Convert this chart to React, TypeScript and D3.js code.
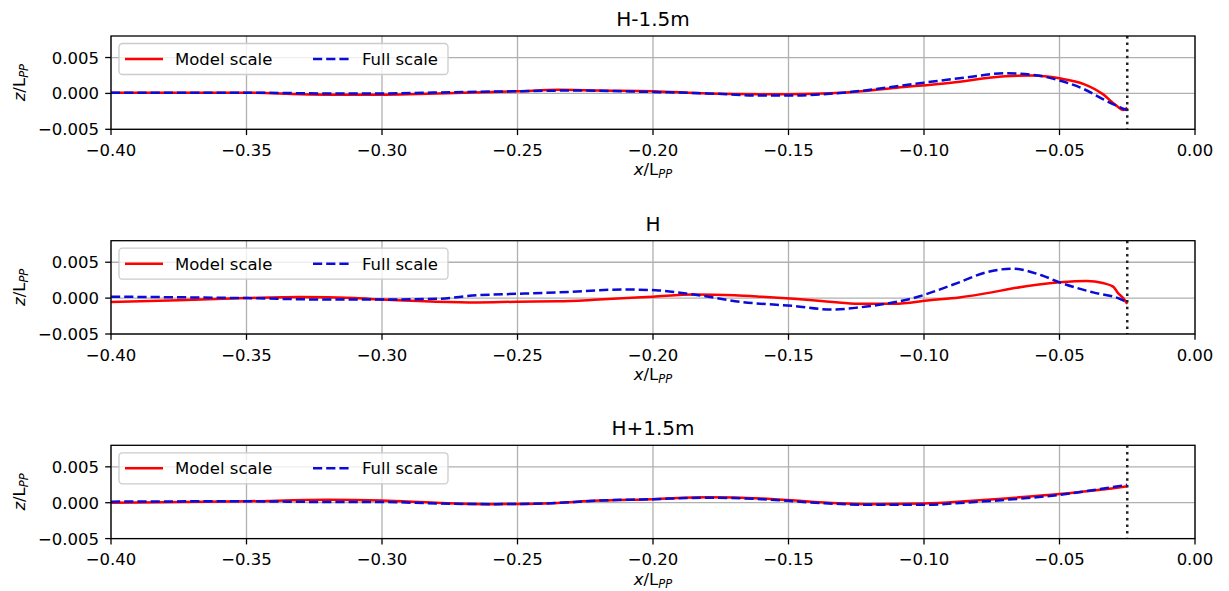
import React from "react";
import * as d3 from "d3";

const panelTitles = ["H-1.5m", "H", "H+1.5m"];
const seriesNames = ["Model scale", "Full scale"];
const xTicks = [-0.4, -0.35, -0.3, -0.25, -0.2, -0.15, -0.1, -0.05, 0.0];
const yTicks = [-0.005, 0.0, 0.005];
const xDomain = [-0.4, 0.0];
const yDomain = [-0.005, 0.008];
const refLineX = -0.025;

// Panel 1: H-1.5m
const p1ModelX = [-0.4, -0.37, -0.35, -0.33, -0.31, -0.29, -0.27, -0.25, -0.235, -0.22, -0.2, -0.18, -0.16, -0.15, -0.13, -0.11, -0.09, -0.07, -0.06, -0.05, -0.041, -0.034, -0.029, -0.0265, -0.025];
const p1ModelY = [0.0001, 0.0001, 0.0001, -0.0001, -0.0002, -0.0001, 0.0001, 0.0003, 0.0005, 0.0004, 0.0003, 0.0, -0.0001, -0.0001, 0.0001, 0.0008, 0.0015, 0.0024, 0.0025, 0.0021, 0.0013, -0.0001, -0.0017, -0.0023, -0.002];
const p1FullX = [-0.4, -0.35, -0.32, -0.3, -0.27, -0.25, -0.23, -0.2, -0.18, -0.16, -0.15, -0.13, -0.1, -0.085, -0.07, -0.06, -0.05, -0.041, -0.034, -0.029, -0.026, -0.0251, -0.025];
const p1FullY = [0.0001, 0.0001, 0.0, 0.0, 0.0002, 0.0003, 0.0004, 0.0002, 0.0, -0.0003, -0.0003, 0.0001, 0.0015, 0.0022, 0.0028, 0.0026, 0.0018, 0.0006, -0.0008, -0.0017, -0.0022, -0.0023, -0.003];

// Panel 2: H
const p2ModelX = [-0.4, -0.375, -0.35, -0.33, -0.31, -0.3, -0.28, -0.265, -0.25, -0.235, -0.22, -0.2, -0.185, -0.17, -0.16, -0.148, -0.135, -0.124, -0.111, -0.098, -0.087, -0.075, -0.068, -0.05, -0.04, -0.034, -0.0302, -0.0284, -0.0265, -0.025];
const p2ModelY = [-0.00055, -0.0003, 0.0, 0.00015, 0.0, -0.0002, -0.0005, -0.0006, -0.0005, -0.00045, -0.0002, 0.0002, 0.0005, 0.0004, 0.0002, -0.0001, -0.0005, -0.0008, -0.0008, -0.0003, 0.0001, 0.0008, 0.0013, 0.0022, 0.0024, 0.0021, 0.0016, 0.0007, 0.0, -0.0008];
const p2FullX = [-0.4, -0.35, -0.32, -0.3, -0.28, -0.265, -0.25, -0.235, -0.21, -0.199, -0.185, -0.167, -0.148, -0.134, -0.124, -0.116, -0.105, -0.087, -0.077, -0.0675, -0.056, -0.05, -0.0376, -0.0277, -0.025];
const p2FullY = [0.0002, 0.0, -0.0002, -0.0002, -0.0001, 0.0004, 0.0006, 0.0008, 0.0012, 0.0011, 0.0005, -0.00055, -0.0011, -0.0016, -0.0013, -0.0009, -0.0001, 0.0022, 0.0036, 0.0041, 0.0031, 0.0022, 0.0008, -0.0001, -0.0006];

// Panel 3: H+1.5m
const p3ModelX = [-0.4, -0.35, -0.32, -0.3, -0.28, -0.26, -0.24, -0.22, -0.2, -0.18, -0.16, -0.14, -0.12, -0.1, -0.085, -0.07, -0.05, -0.035, -0.025];
const p3ModelY = [0.0, 0.0002, 0.0004, 0.0003, 0.0, -0.0002, -0.0001, 0.0003, 0.0005, 0.00075, 0.0006, 0.0001, -0.0002, -0.0001, 0.0002, 0.0006, 0.0012, 0.0018, 0.0023];
const p3FullX = [-0.4, -0.35, -0.32, -0.3, -0.28, -0.26, -0.24, -0.22, -0.2, -0.18, -0.16, -0.14, -0.12, -0.1, -0.085, -0.07, -0.05, -0.035, -0.025];
const p3FullY = [0.00015, 0.0002, 0.0001, 0.0001, -0.0001, -0.0002, -0.0001, 0.0003, 0.0005, 0.0007, 0.0005, 0.0, -0.0003, -0.0003, 0.0, 0.0004, 0.0011, 0.0019, 0.0025];

const panels = [
  { title: panelTitles[0], mx: p1ModelX, my: p1ModelY, fx: p1FullX, fy: p1FullY },
  { title: panelTitles[1], mx: p2ModelX, my: p2ModelY, fx: p2FullX, fy: p2FullY },
  { title: panelTitles[2], mx: p3ModelX, my: p3ModelY, fx: p3FullX, fy: p3FullY },
];

const W = 1229;
const H = 591;
const left = 111;
const right = 1195;
const panelTops = [36, 240.7, 445.3];
const panelH = 93.3;
const FONT = "DejaVu Sans, sans-serif";
const FS = 16.5;
const RED = "#ff0000";
const BLUE = "#0b0bd6";

const fmtX = (v: number) => (v < 0 ? "\u2212" : "") + Math.abs(v).toFixed(2);
const fmtY = (v: number) => (v < 0 ? "\u2212" : "") + Math.abs(v).toFixed(3);

function Panel({ idx }: { idx: number }) {
  const p = panels[idx];
  const top = panelTops[idx];
  const bottom = top + panelH;
  const x = d3.scaleLinear().domain(xDomain).range([left, right]);
  const y = d3.scaleLinear().domain(yDomain).range([bottom, top]);
  const line = d3
    .line<[number, number]>()
    .x((d) => x(d[0]))
    .y((d) => y(d[1]))
    .curve(d3.curveMonotoneX);
  const mPts = p.mx.map((v, i) => [v, p.my[i]] as [number, number]);
  const fPts = p.fx.map((v, i) => [v, p.fy[i]] as [number, number]);
  const clipId = `clip${idx}`;
  const cx = (left + right) / 2;
  const cy = (top + bottom) / 2;
  const legTop = top + 7.5;
  const legLeft = 119;
  const legMid = legTop + 15.5;
  return (
    <g>
      <defs>
        <clipPath id={clipId}>
          <rect x={left} y={top - 2} width={right - left} height={panelH + 4} />
        </clipPath>
      </defs>
      {xTicks.map((t) => (
        <line key={"gx" + t} x1={x(t)} x2={x(t)} y1={top} y2={bottom} stroke="#b0b0b0" strokeWidth={1.3} />
      ))}
      {yTicks.map((t) => (
        <line key={"gy" + t} x1={left} x2={right} y1={y(t)} y2={y(t)} stroke="#b0b0b0" strokeWidth={1.3} />
      ))}
      <g clipPath={`url(#${clipId})`}>
        <path d={line(mPts) || ""} fill="none" stroke={RED} strokeWidth={2.5} strokeLinejoin="round" />
        <path d={line(fPts) || ""} fill="none" stroke={BLUE} strokeWidth={2.5} strokeDasharray="9.2 4" />
        <line x1={x(refLineX)} x2={x(refLineX)} y1={top} y2={bottom} stroke="#222" strokeWidth={2.5} strokeDasharray="2.5 4.1" />
      </g>
      <rect x={left} y={top} width={right - left} height={panelH} fill="none" stroke="#000" strokeWidth={1.3} />
      {xTicks.map((t) => (
        <g key={"tx" + t}>
          <line x1={x(t)} x2={x(t)} y1={bottom} y2={bottom + 5.8} stroke="#000" strokeWidth={1.3} />
          <text x={x(t)} y={bottom + 26.5} textAnchor="middle" fontSize={FS} fontFamily={FONT} fill="#000">
            {fmtX(t)}
          </text>
        </g>
      ))}
      {yTicks.map((t) => (
        <g key={"ty" + t}>
          <line x1={left - 5.8} x2={left} y1={y(t)} y2={y(t)} stroke="#000" strokeWidth={1.3} />
          <text x={left - 12} y={y(t) + 6} textAnchor="end" fontSize={FS} fontFamily={FONT} fill="#000">
            {fmtY(t)}
          </text>
        </g>
      ))}
      <text x={cx} y={top - 10} textAnchor="middle" fontSize={20} fontFamily={FONT} fill="#000">
        {p.title}
      </text>
      <text x={cx} y={bottom + 46} textAnchor="middle" fontSize={FS} fontFamily={FONT} fill="#000">
        <tspan fontStyle="italic">x</tspan>
        <tspan>/L</tspan>
        <tspan fontStyle="italic" fontSize={11.5} dy={3}>PP</tspan>
      </text>
      <text transform={`translate(25,${cy}) rotate(-90)`} textAnchor="middle" fontSize={FS} fontFamily={FONT} fill="#000">
        <tspan fontStyle="italic">z</tspan>
        <tspan>/L</tspan>
        <tspan fontStyle="italic" fontSize={11.5} dy={3}>PP</tspan>
      </text>
      <rect x={legLeft} y={legTop} width={329} height={31} rx={3.5} fill="#fff" fillOpacity={0.8} stroke="#cccccc" strokeWidth={1.3} />
      <line x1={125} x2={163} y1={legMid} y2={legMid} stroke={RED} strokeWidth={2.5} />
      <text x={175} y={legMid + 6} fontSize={FS} fontFamily={FONT} fill="#000">{seriesNames[0]}</text>
      <line x1={313} x2={349} y1={legMid} y2={legMid} stroke={BLUE} strokeWidth={2.5} strokeDasharray="9.2 4" />
      <text x={362} y={legMid + 6} fontSize={FS} fontFamily={FONT} fill="#000">{seriesNames[1]}</text>
    </g>
  );
}

export default function App() {
  return (
    <svg width={W} height={H} style={{ position: "absolute", left: 0, top: 0, background: "#fff" }}>
      <rect x={0} y={0} width={W} height={H} fill="#fff" />
      {panels.map((_, i) => (
        <Panel key={i} idx={i} />
      ))}
    </svg>
  );
}
